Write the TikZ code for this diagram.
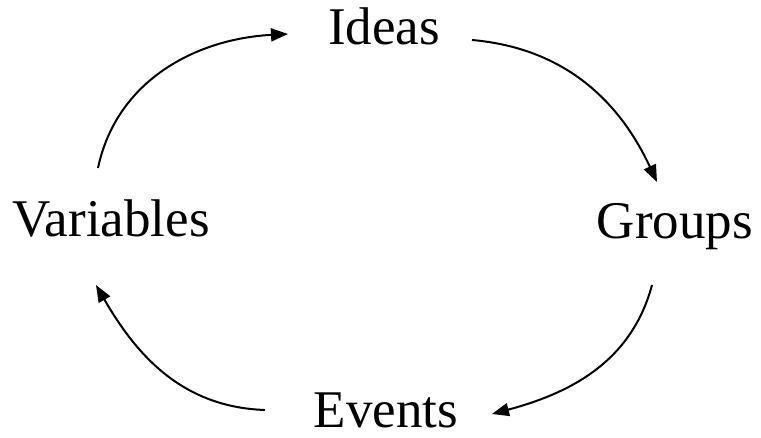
\documentclass[tikz,border=0pt]{standalone}
\usepackage{fontspec}
\setmainfont{Liberation Serif}
\usetikzlibrary{arrows.meta}
\begin{document}
\begin{tikzpicture}[x=1pt,y=1pt,
  label/.style={inner sep=0pt,anchor=base,font=\fontsize{53}{60}\selectfont},
  cycle/.style={line width=2pt,-{Triangle[length=17pt,width=13pt]}}]
\useasboundingbox (0,0) rectangle (761,437);
% labels of the cycle
\node[label] (ideas) at (384,392) {Ideas};
\node[label] (groups) at (675,198) {Groups};
\node[label] (events) at (386,10) {Events};
\node[label] (vars) at (111,200) {Variables};
% arrow end points around the labels
\coordinate (a1) at (98,269);
\coordinate (b1) at (288,403);
\coordinate (a2) at (472,397);
\coordinate (b2) at (657,255);
\coordinate (a3) at (652,152);
\coordinate (b3) at (492,23);
\coordinate (a4) at (265,27);
\coordinate (b4) at (96,152);
% connecting arcs
\draw[cycle] (a1) to[out=78,in=183] (b1);
\draw[cycle] (a2) to[out=-5,in=115] (b2);
\draw[cycle] (a3) to[out=-105,in=15] (b3);
\draw[cycle] (a4) to[out=178,in=-60] (b4);
\end{tikzpicture}
\end{document}
